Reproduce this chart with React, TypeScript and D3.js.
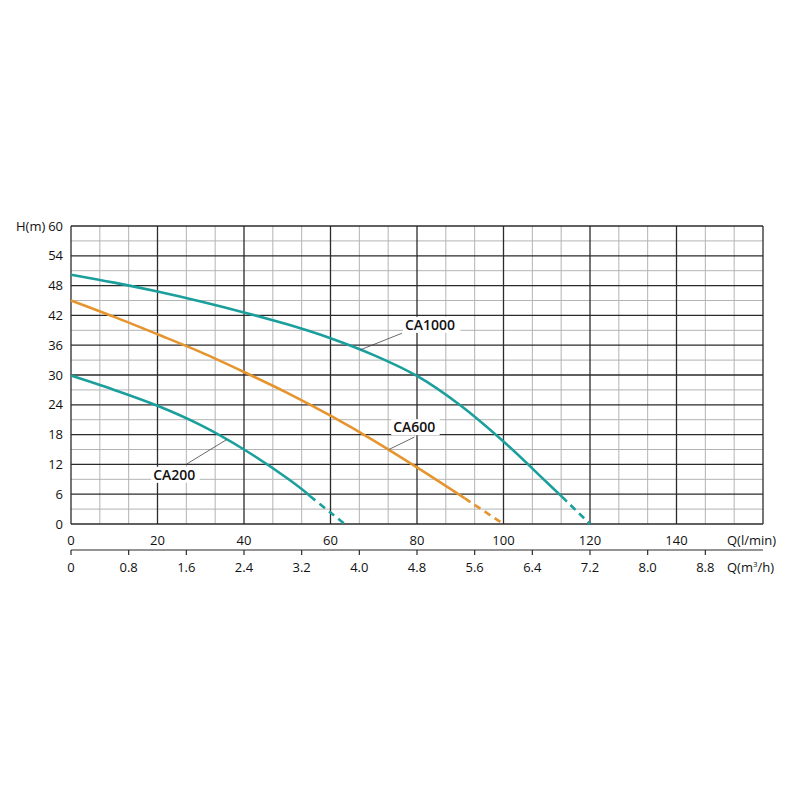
import React from "react";
import * as d3 from "d3";

const qLmin1000 = [0, 10, 20, 30, 40, 50, 60, 70, 80, 90, 100, 110, 113.5];
const h1000 = [50.2, 48.6, 46.8, 44.8, 42.6, 40.2, 37.4, 34.0, 29.8, 23.9, 16.6, 8.4, 5.5];
const q1000Dash = [113.5, 120];
const h1000Dash = [5.5, 0];

const qLmin600 = [0, 10, 20, 30, 40, 50, 60, 70, 80, 91];
const h600 = [45, 41.7, 38.2, 34.6, 30.6, 26.4, 21.8, 16.8, 11.4, 5.2];
const q600Dash = [91, 100];
const h600Dash = [5.2, 0];

const qLmin200 = [0, 10, 20, 30, 40, 50, 55.3];
const h200 = [29.9, 27.0, 23.8, 19.9, 15.0, 9.2, 5.6];
const q200Dash = [55.3, 60, 63.3];
const h200Dash = [5.6, 2.3, 0];

const hTicks = [0, 6, 12, 18, 24, 30, 36, 42, 48, 54, 60];
const qTicks = [0, 20, 40, 60, 80, 100, 120, 140];
const m3Ticks = ["0", "0.8", "1.6", "2.4", "3.2", "4.0", "4.8", "5.6", "6.4", "7.2", "8.0", "8.8"];

const labels = [
  { name: "CA1000", q: 77.2, h: 40.1, fromQ: 67, fromH: 35.1, toQ: 76.5, toH: 38.4 },
  { name: "CA600", q: 74.5, h: 19.5, fromQ: 73.5, fromH: 15.0, toQ: 79.4, toH: 17.5 },
  { name: "CA200", q: 19, h: 9.9, fromQ: 26.8, fromH: 12.1, toQ: 36, toH: 17.0 },
];

const TEAL = "#1a9f9c";
const ORANGE = "#e6952e";
const FONT = "'Open Sans', 'Noto Sans', sans-serif";

export default function App() {
  const x = d3.scaleLinear().domain([0, 160]).range([71, 763]);
  const y = d3.scaleLinear().domain([0, 60]).range([524, 226]);

  const line = (qs: number[], hs: number[]) =>
    d3
      .line<number>()
      .x((_, i) => x(qs[i]))
      .y((_, i) => y(hs[i]))
      .curve(d3.curveCatmullRom.alpha(0.5))(qs) || "";

  const vLines = d3.range(0, 25).map((i) => ({ q: (i * 20) / 3, major: i % 3 === 0 }));
  const hLines = d3.range(0, 21).map((i) => ({ h: i * 3, major: i % 2 === 0 }));

  const axis2Y = 550;

  return (
    <svg width={800} height={800} style={{ position: "absolute", left: 0, top: 0 }} fontFamily={FONT}>
      <rect width={800} height={800} fill="#fff" />
      {vLines.filter((v) => !v.major).map((v, i) => (
        <line key={"vm" + i} x1={x(v.q)} x2={x(v.q)} y1={y(0)} y2={y(60)} stroke="#b3b3b3" strokeWidth={1} />
      ))}
      {hLines.filter((v) => !v.major).map((v, i) => (
        <line key={"hm" + i} x1={x(0)} x2={x(160)} y1={y(v.h)} y2={y(v.h)} stroke="#b3b3b3" strokeWidth={1} />
      ))}
      {vLines.filter((v) => v.major).map((v, i) => (
        <line key={"vM" + i} x1={x(v.q)} x2={x(v.q)} y1={y(0)} y2={y(60)} stroke="#2b2b2b" strokeWidth={1.3} />
      ))}
      {hLines.filter((v) => v.major).map((v, i) => (
        <line key={"hM" + i} x1={x(0)} x2={x(160)} y1={y(v.h)} y2={y(v.h)} stroke="#2b2b2b" strokeWidth={1.3} />
      ))}

      {labels.map((l) => (
        <rect key={"bg" + l.name} x={x(l.q) - 2} y={y(l.h) - 8} width={l.name.length * 8.9 + 4} height={16} fill="#fff" />
      ))}

      <path d={line(qLmin1000, h1000)} fill="none" stroke={TEAL} strokeWidth={2.6} />
      <path d={line(q1000Dash, h1000Dash)} fill="none" stroke={TEAL} strokeWidth={2.6} strokeDasharray="7,5" />
      <path d={line(qLmin600, h600)} fill="none" stroke={ORANGE} strokeWidth={2.6} />
      <path d={line(q600Dash, h600Dash)} fill="none" stroke={ORANGE} strokeWidth={2.6} strokeDasharray="7,5" />
      <path d={line(qLmin200, h200)} fill="none" stroke={TEAL} strokeWidth={2.6} />
      <path d={line(q200Dash, h200Dash)} fill="none" stroke={TEAL} strokeWidth={2.6} strokeDasharray="7,5" />

      {labels.map((l) => (
        <g key={l.name}>
          <line x1={x(l.fromQ)} y1={y(l.fromH)} x2={x(l.toQ)} y2={y(l.toH)} stroke="#444" strokeWidth={0.8} />
          <text x={x(l.q)} y={y(l.h)} dy="0.35em" fontSize={14} fontWeight={600} fill="#111">
            {l.name}
          </text>
        </g>
      ))}

      {hTicks.map((h) => (
        <text key={"yt" + h} x={63} y={y(h)} dy="0.35em" textAnchor="end" fontSize={13} fill="#111">
          {h}
        </text>
      ))}
      <text x={16} y={y(60)} dy="0.35em" fontSize={13} fill="#111">H(m)</text>

      {qTicks.map((q) => (
        <text key={"xt" + q} x={x(q)} y={540} dy="0.35em" textAnchor="middle" fontSize={13} fill="#111">
          {q}
        </text>
      ))}
      <text x={727} y={540} dy="0.35em" fontSize={13} fill="#111">Q(l/min)</text>

      <line x1={x(0)} x2={x(160)} y1={axis2Y} y2={axis2Y} stroke="#2b2b2b" strokeWidth={1.2} />
      {m3Ticks.map((t, i) => {
        const q = (i * 40) / 3;
        return (
          <g key={"m3" + t}>
            <line x1={x(q)} x2={x(q)} y1={axis2Y} y2={axis2Y + 5} stroke="#2b2b2b" strokeWidth={1.2} />
            <text x={x(q)} y={567} dy="0.35em" textAnchor="middle" fontSize={13} fill="#111">
              {t}
            </text>
          </g>
        );
      })}
      <text x={727} y={567} dy="0.35em" fontSize={13} fill="#111">
        Q(m<tspan dy="-5" fontSize={8}>3</tspan><tspan dy="5">/h)</tspan>
      </text>
    </svg>
  );
}
